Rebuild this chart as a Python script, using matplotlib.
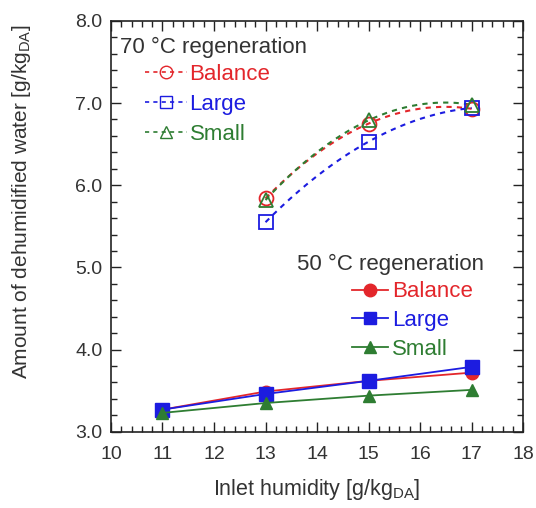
import numpy as np
import matplotlib
matplotlib.use("Agg")
import matplotlib.pyplot as plt
from matplotlib.ticker import MultipleLocator, FormatStrFormatter
from matplotlib.lines import Line2D

plt.rcParams['font.family'] = ['Liberation Sans', 'DejaVu Sans']
plt.rcParams['mathtext.fontset'] = 'custom'
plt.rcParams['mathtext.rm'] = 'Liberation Sans'
plt.rcParams['mathtext.it'] = 'Liberation Sans'

# Inlet humidity [g/kg_DA]
x50 = [11, 13, 15, 17]
x70 = [13, 15, 17]

# 50 degC regeneration
bal50 = [3.27, 3.49, 3.62, 3.72]
lar50 = [3.27, 3.46, 3.62, 3.79]
sma50 = [3.23, 3.35, 3.44, 3.51]

# 70 degC regeneration
bal70 = [5.84, 6.75, 6.93]
lar70 = [5.55, 6.53, 6.94]
sma70 = [5.82, 6.79, 6.98]

labels = ["Balance", "Large", "Small"]
colors = ["#e3262b", "#1c1ce0", "#2e7d32"]
markers = ["o", "s", "^"]

fig = plt.figure(figsize=(5.36, 5.08), dpi=100)
ax = fig.add_axes([0.207, 0.150, 0.769, 0.809])

# 50 degC: solid lines with filled markers
for y, c, m in zip([bal50, lar50, sma50], colors, markers):
    ax.plot(x50, y, color=c, lw=1.3, marker=m, ms=9 if m != "s" else 10,
            mfc=c, mec=c, zorder=3)

# 70 degC: smooth dashed curves through the points, open markers
xs = np.linspace(x70[0], x70[-1], 200)
for y, c, m in zip([bal70, lar70, sma70], colors, markers):
    coef = np.polyfit(x70, y, 2)
    ax.plot(xs, np.polyval(coef, xs), color=c, lw=1.5, ls=(0, (2.5, 2.5)), zorder=2)
    ax.plot(x70, y, ls="none", marker=m, ms=10, mfc="none", mec=c, mew=1.3, zorder=3)

ax.set_xlim(10, 18)
ax.set_ylim(3.0, 8.0)
ax.xaxis.set_major_locator(MultipleLocator(1))
ax.xaxis.set_minor_locator(MultipleLocator(0.2))
ax.yaxis.set_major_locator(MultipleLocator(1))
ax.yaxis.set_minor_locator(MultipleLocator(0.2))
ax.yaxis.set_major_formatter(FormatStrFormatter('%.1f'))
ax.tick_params(which="both", direction="in", top=True, right=True, colors="#222222",
               labelcolor="#333333", labelsize=14, width=1.0)
ax.tick_params(which="major", length=7)
ax.tick_params(which="minor", length=4)
ax.tick_params(axis="x", which="major", pad=10)
ax.tick_params(axis="y", which="major", pad=6)
for s in ax.spines.values():
    s.set_color("#222222")
    s.set_linewidth(1.2)

ax.set_xlabel(r"Inlet humidity [g/kg$_\mathrm{DA}$]", fontsize=15.5, color="#333333", labelpad=10)
ax.set_ylabel(r"Amount of dehumidified water [g/kg$_\mathrm{DA}$]", fontsize=15,
              color="#333333")
ax.yaxis.set_label_coords(-0.19, 0.56)

# Legend: 70 degC regeneration
ax.text(0.022, 0.962, "70 °C regeneration", transform=ax.transAxes, fontsize=16,
        color="#333333", va="top", ha="left")
h70 = [Line2D([], [], color=c, lw=1.2, ls=(0, (2.5, 2.5)), marker=m, ms=9,
              mfc="none", mec=c) for c, m in zip(colors, markers)]
leg1 = ax.legend(h70, labels, loc="upper left", bbox_to_anchor=(0.083, 0.895),
                 frameon=False, fontsize=16, handlelength=1.9, handletextpad=0.1,
                 labelspacing=0.4, borderpad=0, borderaxespad=0, labelcolor=colors)
ax.add_artist(leg1)

# Legend: 50 degC regeneration
ax.text(0.451, 0.433, "50 °C regeneration", transform=ax.transAxes, fontsize=16,
        color="#333333", va="top", ha="left")
h50 = [Line2D([], [], color=c, lw=1.3, marker=m, ms=9, mfc=c, mec=c)
       for c, m in zip(colors, markers)]
ax.legend(h50, labels, loc="upper left", bbox_to_anchor=(0.585, 0.366),
          frameon=False, fontsize=16, handlelength=1.6, handletextpad=0.2,
          labelspacing=0.35, borderpad=0, borderaxespad=0, labelcolor=colors)

fig.savefig("out.png", dpi=100)
